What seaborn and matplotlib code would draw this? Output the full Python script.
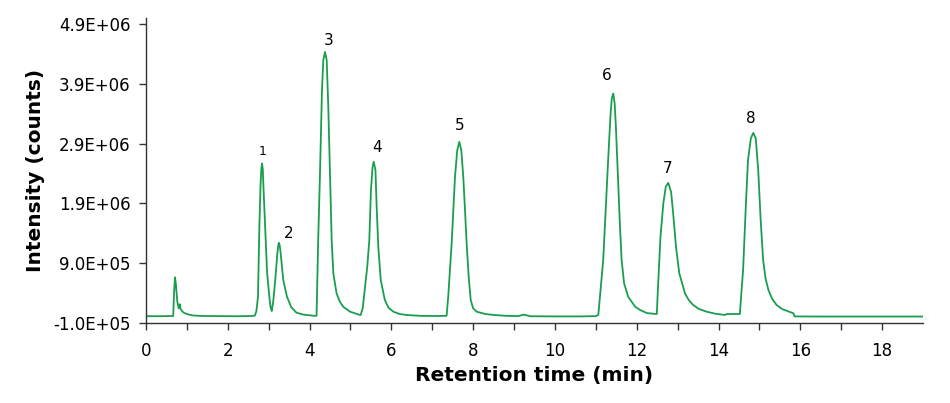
import matplotlib
matplotlib.use("Agg")
import matplotlib.pyplot as plt
import numpy as np
import seaborn as sns

# chromatogram trace (time in min, intensity in 1e6 counts)
time_min = [
    0.00, 0.30, 0.60, 0.665, 0.685, 0.709, 0.73, 0.765, 0.80, 0.823, 0.845, 0.90, 0.953,
    1.05, 1.157, 1.40, 1.80, 2.20, 2.60,
    2.665, 2.70, 2.738, 2.77, 2.80, 2.82, 2.836, 2.855, 2.87, 2.917, 2.96, 3.015, 3.045, 3.073,
    3.11, 3.16, 3.21, 3.235, 3.25, 3.27, 3.29, 3.356, 3.447, 3.55, 3.68, 3.85, 4.09, 4.17,
    4.21, 4.254, 4.303, 4.335, 4.377, 4.418, 4.457, 4.499, 4.54, 4.58, 4.66, 4.74, 4.82, 4.99, 5.23,
    5.25, 5.30, 5.355, 5.41, 5.46, 5.50, 5.54, 5.567, 5.61, 5.64, 5.68, 5.74, 5.84, 5.93, 6.05,
    6.20, 6.37, 6.70, 7.00, 7.35,
    7.39, 7.474, 7.515, 7.555, 7.61, 7.66, 7.71, 7.758, 7.80, 7.84, 7.89, 7.94, 8.00, 8.085,
    8.30, 8.49, 8.80, 9.10, 9.23, 9.40, 10.00, 10.60, 11.00,
    11.06, 11.18, 11.30, 11.36, 11.39, 11.426, 11.46, 11.49, 11.524, 11.56, 11.59, 11.63,
    11.69, 11.79, 11.96, 12.08, 12.25, 12.49,
    12.52, 12.58, 12.65, 12.71, 12.77, 12.84, 12.89, 12.96, 13.04, 13.18, 13.27, 13.38,
    13.52, 13.71, 13.92, 14.16, 14.20, 14.52,
    14.60, 14.67, 14.72, 14.79, 14.85, 14.91, 14.97, 15.03, 15.09, 15.15, 15.22, 15.31,
    15.42, 15.55, 15.70, 15.83, 15.86, 16.50, 17.50, 19.00,
]
intensity_m = [
    0.010, 0.008, 0.010, 0.012, 0.40, 0.66, 0.55, 0.25, 0.14, 0.21, 0.13, 0.08, 0.057,
    0.035, 0.020, 0.012, 0.010, 0.008, 0.012,
    0.020, 0.10, 0.335, 1.45, 2.20, 2.48, 2.568, 2.48, 2.20, 1.45, 0.75, 0.335, 0.16, 0.096,
    0.25, 0.615, 1.05, 1.20, 1.239, 1.19, 1.08, 0.615, 0.335, 0.16, 0.067, 0.035, 0.017, 0.015,
    1.28, 2.40, 3.80, 4.30, 4.436, 4.30, 3.52, 2.40, 1.28, 0.727, 0.39, 0.25, 0.168, 0.084, 0.029,
    0.029, 0.15, 0.50, 0.837, 1.28, 2.12, 2.51, 2.595, 2.46, 1.84, 1.17, 0.615, 0.28, 0.15, 0.084,
    0.045, 0.029, 0.015, 0.012, 0.015,
    0.335, 1.23, 1.79, 2.34, 2.79, 2.93, 2.79, 2.34, 1.79, 1.23, 0.67, 0.28, 0.14, 0.084,
    0.045, 0.030, 0.015, 0.010, 0.035, 0.008, 0.005, 0.005, 0.010,
    0.03, 0.95, 2.62, 3.40, 3.66, 3.74, 3.57, 3.18, 2.62, 2.07, 1.507, 0.95,
    0.56, 0.335, 0.168, 0.113, 0.06, 0.045,
    0.50, 1.34, 1.90, 2.18, 2.243, 2.09, 1.73, 1.17, 0.727, 0.39, 0.28, 0.196,
    0.13, 0.084, 0.05, 0.029, 0.045, 0.045,
    0.78, 1.90, 2.62, 2.99, 3.08, 2.99, 2.46, 1.62, 0.95, 0.64, 0.447, 0.30,
    0.196, 0.13, 0.09, 0.057, 0.005, 0.003, 0.003, 0.003,
]

# peak labels and apex positions
peak_labels = ["1", "2", "3", "4", "5", "6", "7", "8"]
peak_times = [2.836, 3.25, 4.377, 5.567, 7.66, 11.426, 12.77, 14.85]
peak_heights_m = [2.568, 1.239, 4.436, 2.595, 2.93, 3.74, 2.243, 3.08]

y_ticks = [-1.0e5, 9.0e5, 1.9e6, 2.9e6, 3.9e6, 4.9e6]

sns.set_style("ticks")
plt.rcParams['font.family'] = ['DejaVu Sans']

fig = plt.figure(figsize=(9.5, 4.03), dpi=100)
ax = fig.add_axes([0.1537, 0.1993, 0.8179, 0.7553])

sns.lineplot(x=np.array(time_min), y=np.array(intensity_m) * 1e6, ax=ax,
             color="#1a9e4e", linewidth=1.3, sort=False, estimator=None)

# label offsets in pixels (x, y) above each apex
offsets = [(1, 5), (10, 2), (4, 4), (3, 7), (0, 9), (-7, 10), (-1, 7), (-2, 7)]
for lab, t, h, off in zip(peak_labels, peak_times, peak_heights_m, offsets):
    ax.annotate(lab, (t, h * 1e6), xytext=off, textcoords="offset pixels",
                ha="center", va="bottom", fontsize=9 if lab == "1" else 11,
                color="black")

ax.set_xlim(0, 19)
ax.set_ylim(-1.0e5, 5.0e6)
ax.set_xticks(range(0, 19, 2))
ax.set_xticks(range(1, 19, 2), minor=True)
ax.set_yticks(y_ticks)
ax.set_yticklabels(["{:.1E}".format(v) for v in y_ticks])
ax.tick_params(axis="both", which="both", direction="out", length=5, width=1,
               color="#333333", labelsize=12, labelcolor="black")
ax.tick_params(axis="x", pad=9)
ax.tick_params(axis="y", pad=6)
for s in ["left", "bottom"]:
    ax.spines[s].set_color("#333333")
    ax.spines[s].set_linewidth(1)
sns.despine(ax=ax)

ax.set_xlabel("Retention time (min)", fontsize=14.5, fontweight="bold", labelpad=4,
              color="black")
ax.set_ylabel("Intensity (counts)", fontsize=14.5, fontweight="bold", labelpad=6,
              color="black")

fig.savefig("out.png", dpi=100)
